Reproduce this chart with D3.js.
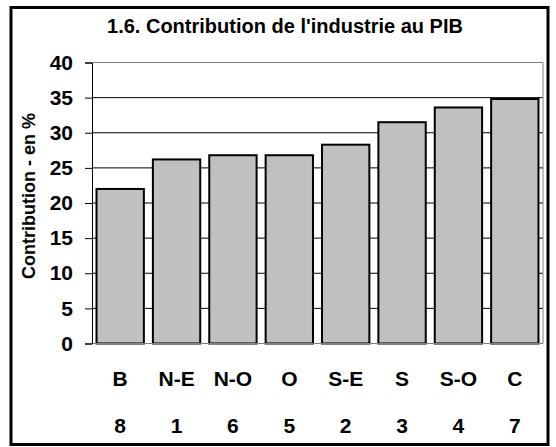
<!DOCTYPE html>
<html lang="fr">
<head>
<meta charset="UTF-8">
<title>Contribution de l'industrie au PIB</title>
<script src="https://d3js.org/d3.v7.min.js"></script>
<style>
  body { margin: 0; background: #fff; }
  text { font-family: Arial, "Liberation Sans", sans-serif; font-weight: bold; fill: #000; }
</style>
</head>
<body>
<div id="chart"></div>
<script>
// data
const regions = ["B", "N-E", "N-O", "O", "S-E", "S", "S-O", "C"];
const ranks = ["8", "1", "6", "5", "2", "3", "4", "7"];
const contribution = [22.0, 26.2, 26.8, 26.8, 28.3, 31.5, 33.6, 34.8];
const yTicks = [0, 5, 10, 15, 20, 25, 30, 35, 40];

const W = 556, H = 447;
const plot = {left: 92, right: 543, top: 62.5, bottom: 343.5};

const svg = d3.select("#chart").append("svg")
    .attr("width", W)
    .attr("height", H);

// outer frame
svg.append("rect")
    .attr("x", 11).attr("y", 7.5)
    .attr("width", 537).attr("height", 437)
    .attr("fill", "none")
    .attr("stroke", "#000")
    .attr("stroke-width", 3);

svg.append("text")
    .attr("x", 285).attr("y", 33)
    .attr("text-anchor", "middle")
    .style("font-size", "20px")
    .text("1.6. Contribution de l'industrie au PIB");

const x = d3.scaleBand()
    .domain(regions)
    .range([plot.left, plot.right])
    .paddingInner(0.16)
    .paddingOuter(0.08);

const y = d3.scaleLinear()
    .domain([0, 40])
    .range([plot.bottom, plot.top]);

// gridlines
svg.append("g")
  .selectAll("line")
  .data(yTicks.filter(d => d > 0))
  .join("line")
    .attr("x1", plot.left).attr("x2", plot.right)
    .attr("y1", d => y(d)).attr("y2", d => y(d))
    .attr("stroke", d => d === 40 ? "#808080" : "#000")
    .attr("stroke-width", 1);

// right border of plot area
svg.append("line")
    .attr("x1", plot.right).attr("x2", plot.right)
    .attr("y1", plot.top).attr("y2", plot.bottom)
    .attr("stroke", "#808080");

// bars
svg.append("g")
  .selectAll("rect")
  .data(contribution)
  .join("rect")
    .attr("x", (d, i) => x(regions[i]))
    .attr("y", d => y(d))
    .attr("width", x.bandwidth())
    .attr("height", d => y(0) - y(d))
    .attr("fill", "#c0c0c0")
    .attr("stroke", "#000")
    .attr("stroke-width", 2);

// bottom line
svg.append("line")
    .attr("x1", plot.left).attr("x2", plot.right)
    .attr("y1", plot.bottom).attr("y2", plot.bottom)
    .attr("stroke", "#808080");

// y axis
const yAxis = svg.append("g")
    .attr("transform", `translate(${plot.left},0)`)
    .call(d3.axisLeft(y).tickValues(yTicks).tickSize(7).tickPadding(12));
yAxis.attr("font-family", null).attr("font-size", null);
yAxis.select(".domain").attr("stroke", "#000");
yAxis.selectAll(".tick line").attr("stroke", "#000");
yAxis.selectAll(".tick text").style("font-size", "21px");

svg.append("text")
    .attr("transform", "translate(35,196) rotate(-90)")
    .attr("text-anchor", "middle")
    .style("font-size", "18px")
    .text("Contribution - en %");

// category labels and ranks
svg.append("g")
  .selectAll("text")
  .data(regions)
  .join("text")
    .attr("x", d => x(d) + x.bandwidth() / 2)
    .attr("y", 386)
    .attr("text-anchor", "middle")
    .style("font-size", "21px")
    .text(d => d);

svg.append("g")
  .selectAll("text")
  .data(ranks)
  .join("text")
    .attr("x", (d, i) => x(regions[i]) + x.bandwidth() / 2)
    .attr("y", 433)
    .attr("text-anchor", "middle")
    .style("font-size", "21px")
    .text(d => d);
</script>
</body>
</html>
